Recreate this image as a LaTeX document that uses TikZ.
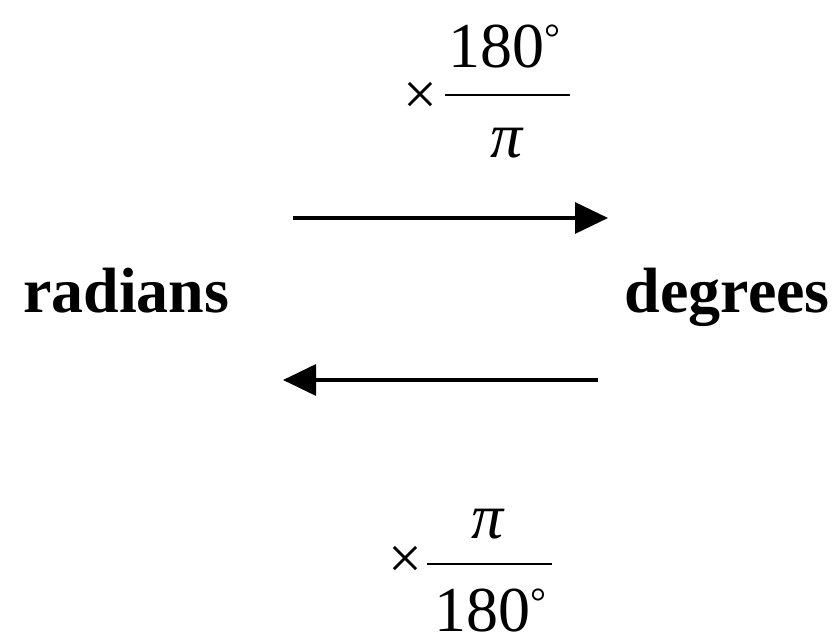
\documentclass[tikz,border=0pt]{standalone}
\usepackage{fontspec}
\setmainfont{Liberation Serif}
\usetikzlibrary{positioning,arrows.meta}

\newcommand{\degsign}{\raisebox{16pt}{\fontsize{40}{44}\selectfont °}}

\begin{document}
\begin{tikzpicture}[
    x=1pt, y=1pt,
    word/.style={inner sep=0pt, font=\fontsize{64}{72}\selectfont\bfseries},
    num/.style={inner sep=0pt, font=\fontsize{64}{72}\selectfont},
    times/.style={inner sep=0pt, font=\fontsize{60}{72}\selectfont},
    bar/.style={line width=2.5pt},
    arr/.style={-{Triangle[length=33pt,width=31pt]}, line width=3.2pt}
]
    \useasboundingbox (0,0) rectangle (835,642);
    \node[word, anchor=base west] (rad) at (23,329) {radians};
    \node[word, anchor=base east] (deg) at (830,329) {degrees};
    % radians to degrees
    \coordinate (b1l) at (445,547);
    \coordinate (b1r) at (570,547);
    \draw[bar] (b1l) -- (b1r);
    \node[num, anchor=base] (n1) at (504,574) {180\degsign};
    \node[num, anchor=base] (d1) at (507,484) {\itshape π};
    \node[times] (x1) at (420,544) {×};
    % degrees to radians
    \coordinate (b2l) at (427,78);
    \coordinate (b2r) at (552,78);
    \draw[bar] (b2l) -- (b2r);
    \node[num, anchor=base] (n2) at (488,103) {\itshape π};
    \node[num, anchor=base] (d2) at (490,10) {180\degsign};
    \node[times] (x2) at (405,80) {×};
    % arrows
    \coordinate (a1s) at (293,424);
    \coordinate (a1e) at (608,424);
    \coordinate (a2s) at (598,262);
    \coordinate (a2e) at (283,262);
    \draw[arr] (a1s) -- (a1e);
    \draw[arr] (a2s) -- (a2e);
\end{tikzpicture}
\end{document}
